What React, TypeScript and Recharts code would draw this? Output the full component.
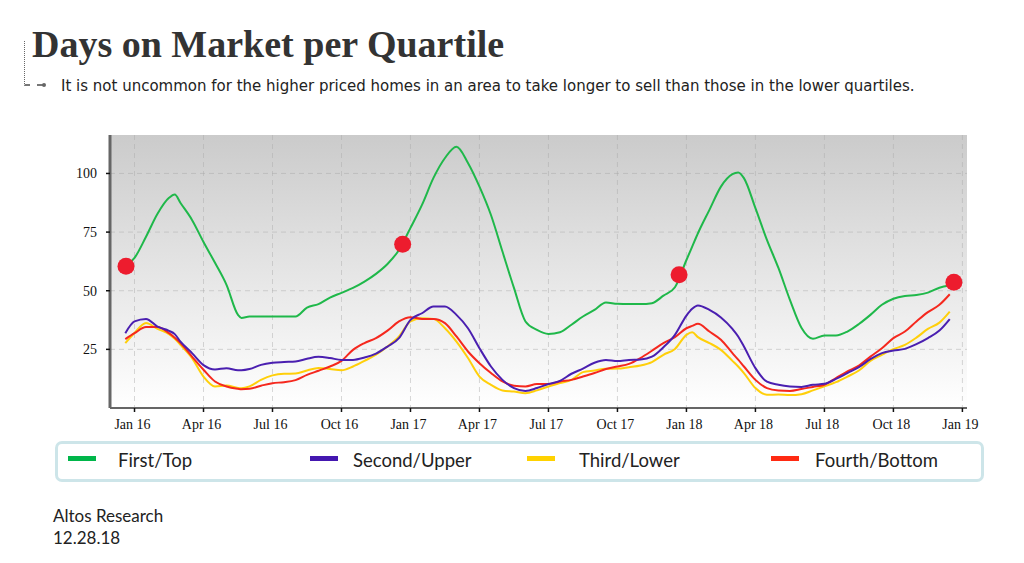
import { LineChart, Line, XAxis, YAxis, CartesianGrid, ReferenceDot } from 'recharts';

// months since Jan 2016, half-month steps plus a few extra points at the turning points
const months = [
  -0.4, 0, 0.5, 1, 1.5, 1.75, 2, 2.5, 3, 3.5, 4, 4.5, 4.65, 5, 5.5, 6, 6.5, 7, 7.5, 8, 8.5, 9, 9.5, 10, 10.5, 11, 11.5,
  12, 12.5, 13, 13.5, 14, 14.5, 15, 15.5, 16, 16.5, 17, 17.5, 18, 18.5, 19, 19.5, 20, 20.5, 21, 21.5, 22, 22.5, 23, 23.5,
  24, 24.25, 24.5, 25, 25.5, 26, 26.25, 26.5, 27, 27.5, 28, 28.5, 29, 29.5, 30, 30.5, 31, 31.5, 32, 32.5, 33, 33.5, 34, 34.5, 35, 35.45,
];

const first = [
  60.3, 64, 73, 82.8, 89.6, 91, 87.4, 80.2, 70.8, 61.9, 52.5, 39.7, 38.4, 39, 39, 39, 39, 39, 42.8, 44.3, 47.1, 49.1, 51.2, 53.9, 57.2, 61.4, 67.4,
  76.8, 86.6, 98.1, 106.6, 111.4, 104.5, 94.4, 82.3, 66.7, 51.2, 36.9, 33.3, 31.6, 32.3, 35.5, 39, 41.8, 45, 44.4, 44.3, 44.3, 44.7, 47.9, 51.5,
  63.1, 68.8, 74.5, 84.5, 94.4, 99.7, 100.4, 98, 85.2, 71.7, 59.7, 46.1, 34.2, 29.5, 30.9, 30.9, 32.6, 35.8, 39.7, 44, 46.6, 47.8, 48.2, 49.2, 51.3, 52.2,
];
const second = [
  31.9, 36.9, 38, 34.7, 32.9, 31.5, 28.3, 23.4, 18.3, 16.4, 17, 16.1, 16.1, 16.6, 18.4, 19.3, 19.6, 19.8, 21, 21.8, 21.3, 20.5, 20.5, 21.5, 23.2, 26.2, 29.8,
  37.6, 40.4, 43.3, 43.3, 39.7, 34, 25.5, 17.7, 12, 8.5, 7.3, 8.5, 10.2, 11.6, 14.6, 16.8, 19.3, 20.5, 20, 20.5, 20.7, 21.9, 25.9, 31.2,
  39.4, 42.3, 43.7, 41.8, 38.6, 33.7, 30.5, 26.2, 17, 11.2, 9.9, 9.2, 9, 9.9, 10.3, 12.4, 14.9, 17.4, 20.8, 23.4, 24.5, 25.2, 27.2, 29.8, 33, 37.9,
];
const third = [
  27.7, 32, 36.2, 33.7, 31.5, 29.5, 26.9, 21.3, 13.4, 9.2, 9.6, 8.5, 8.4, 9.2, 12, 13.9, 14.6, 14.7, 16, 17.1, 16.6, 16.1, 17.7, 20.1, 22.7, 26.2, 30.5,
  36.9, 38.3, 38, 34, 28.3, 21.3, 13.4, 9.9, 7.5, 7, 6.3, 7.5, 9.2, 10.6, 12, 15.3, 16, 16.7, 16.8, 17.4, 18.1, 19.6, 22.7, 25.2,
  31.2, 32.3, 30.2, 27.7, 24.8, 20.1, 17.7, 14.9, 8.5, 5.6, 5.8, 5.5, 5.9, 7.5, 9.2, 11, 13.4, 16, 20.1, 22.7, 25.1, 26.9, 30, 33.7, 36.4, 41.1,
];
const fourth = [
  29.4, 31.9, 34.5, 34.5, 31.9, 30, 27.7, 21.9, 16.3, 11.3, 9.2, 8.2, 8, 8.2, 9.5, 10.6, 11, 11.9, 14.1, 15.9, 17.7, 20.1, 24.8, 27.7, 29.8, 33, 36.9,
  38.7, 38, 38, 36.2, 30.5, 24.1, 19.1, 14.9, 11.3, 9.5, 9.2, 10.2, 10.2, 11.3, 12, 13.4, 14.9, 16.6, 17.7, 18.8, 21.3, 24.4, 27.7, 30.2,
  34, 35, 35.9, 32.6, 29.1, 23.4, 20.6, 17.7, 12, 8.5, 7.5, 7.3, 8.1, 9, 9.9, 12.7, 15.6, 18.1, 21.9, 25.5, 29.8, 32.6, 36.9, 40.9, 44, 48.5,
];

const tickMonths = [0, 3, 6, 9, 12, 15, 18, 21, 24, 27, 30, 33, 36];
const tickLabels = ['Jan 16', 'Apr 16', 'Jul 16', 'Oct 16', 'Jan 17', 'Apr 17', 'Jul 17', 'Oct 17', 'Jan 18', 'Apr 18', 'Jul 18', 'Oct 18', 'Jan 19'];
const yTicks = [25, 50, 75, 100];

const dotMonths = [-0.37, 11.66, 23.68, 35.63];
const dotValues = [60.4, 69.8, 56.8, 53.6];

const rows = months.map((month, i) => ({
  month,
  first: first[i],
  second: second[i],
  third: third[i],
  fourth: fourth[i],
}));

const legendItems = [
  { name: 'First/Top', color: '#00b64a', swatch: 68, text: 118 },
  { name: 'Second/Upper', color: '#4417b0', swatch: 310, text: 353 },
  { name: 'Third/Lower', color: '#ffd200', swatch: 527, text: 579 },
  { name: 'Fourth/Bottom', color: '#ff2a12', swatch: 771, text: 815 },
];

const axisFont = { fontFamily: '"Liberation Serif", serif', fontSize: 14, fill: '#111' };

function formatMonth(value: number): string {
  return tickLabels[tickMonths.indexOf(value)] ?? '';
}

export default function App() {
  return (
    <div style={{ position: 'absolute', left: 0, top: 0, width: 1024, height: 563, background: '#fff', overflow: 'hidden' }}>
      <div style={{ position: 'absolute', left: 32, top: 22, fontFamily: '"Liberation Serif", serif', fontWeight: 700, fontSize: 38, color: '#333', whiteSpace: 'nowrap' }}>
        Days on Market per Quartile
      </div>
      <div style={{ position: 'absolute', left: 24, top: 41, width: 18, height: 43, borderLeft: '1px dotted #666', borderBottom: '2px dashed #777' }} />
      <div style={{ position: 'absolute', left: 42, top: 83, width: 4, height: 4, borderRadius: 2, background: '#666' }} />
      <div style={{ position: 'absolute', left: 61, top: 77, fontFamily: '"DejaVu Sans", sans-serif', fontSize: 15, color: '#222', whiteSpace: 'nowrap' }}>
        It is not uncommon for the higher priced homes in an area to take longer to sell than those in the lower quartiles.
      </div>

      <div style={{ position: 'absolute', left: 0, top: 0 }}>
        <LineChart width={1024} height={563} data={rows} margin={{ top: 135, right: 57, bottom: 125, left: 60 }}>
          <defs>
            <linearGradient id="plotBg" x1="0" y1="0" x2="0" y2="1">
              <stop offset="0%" stopColor="#cbcbcb" />
              <stop offset="100%" stopColor="#ffffff" />
            </linearGradient>
          </defs>
          <CartesianGrid
            fill="url(#plotBg)"
            fillOpacity={1}
            stroke="#a8a8a8"
            strokeOpacity={0.45}
            strokeDasharray="5 4"
            horizontalValues={yTicks}
            verticalValues={tickMonths}
          />
          <XAxis
            dataKey="month"
            type="number"
            domain={[-1.066, 36.2]}
            allowDataOverflow
            ticks={tickMonths}
            tickFormatter={formatMonth}
            interval={0}
            height={30}
            tick={{ ...axisFont, dx: -2 }}
            tickSize={4}
            tickMargin={7}
            axisLine={{ stroke: '#666', strokeWidth: 2 }}
            tickLine={{ stroke: '#111', strokeWidth: 1.5 }}
          />
          <YAxis
            type="number"
            domain={[0, 116.4]}
            allowDataOverflow
            ticks={yTicks}
            interval={0}
            width={50}
            tick={axisFont}
            tickSize={4}
            tickMargin={9}
            axisLine={{ stroke: '#666', strokeWidth: 3 }}
            tickLine={{ stroke: '#111', strokeWidth: 1.5 }}
          />
          <Line type="monotone" dataKey="first" stroke="#1fb84a" strokeWidth={2} dot={false} isAnimationActive={false} />
          <Line type="monotone" dataKey="third" stroke="#ffcf0a" strokeWidth={2} dot={false} isAnimationActive={false} />
          <Line type="monotone" dataKey="fourth" stroke="#f5281e" strokeWidth={2} dot={false} isAnimationActive={false} />
          <Line type="monotone" dataKey="second" stroke="#4a1fb0" strokeWidth={2} dot={false} isAnimationActive={false} />
          {dotMonths.map((m, i) => (
            <ReferenceDot key={m} x={m} y={dotValues[i]} r={8.5} fill="#ed1c2e" stroke="none" ifOverflow="visible" />
          ))}
        </LineChart>
      </div>

      <div style={{ position: 'absolute', left: 55, top: 441, width: 923, height: 35, border: '3px solid #cde5e9', borderRadius: 7 }} />
      {legendItems.map((item) => (
        <div key={item.name}>
          <div style={{ position: 'absolute', left: item.swatch, top: 456, width: 28, height: 5, background: item.color }} />
          <div style={{ position: 'absolute', left: item.text, top: 449, fontFamily: 'Lato, sans-serif', fontSize: 18.5, color: '#222', whiteSpace: 'nowrap' }}>
            {item.name}
          </div>
        </div>
      ))}

      <div style={{ position: 'absolute', left: 53, top: 505, fontFamily: 'Lato, sans-serif', fontSize: 17, lineHeight: '22px', color: '#222' }}>
        Altos Research
        <br />
        12.28.18
      </div>
    </div>
  );
}
